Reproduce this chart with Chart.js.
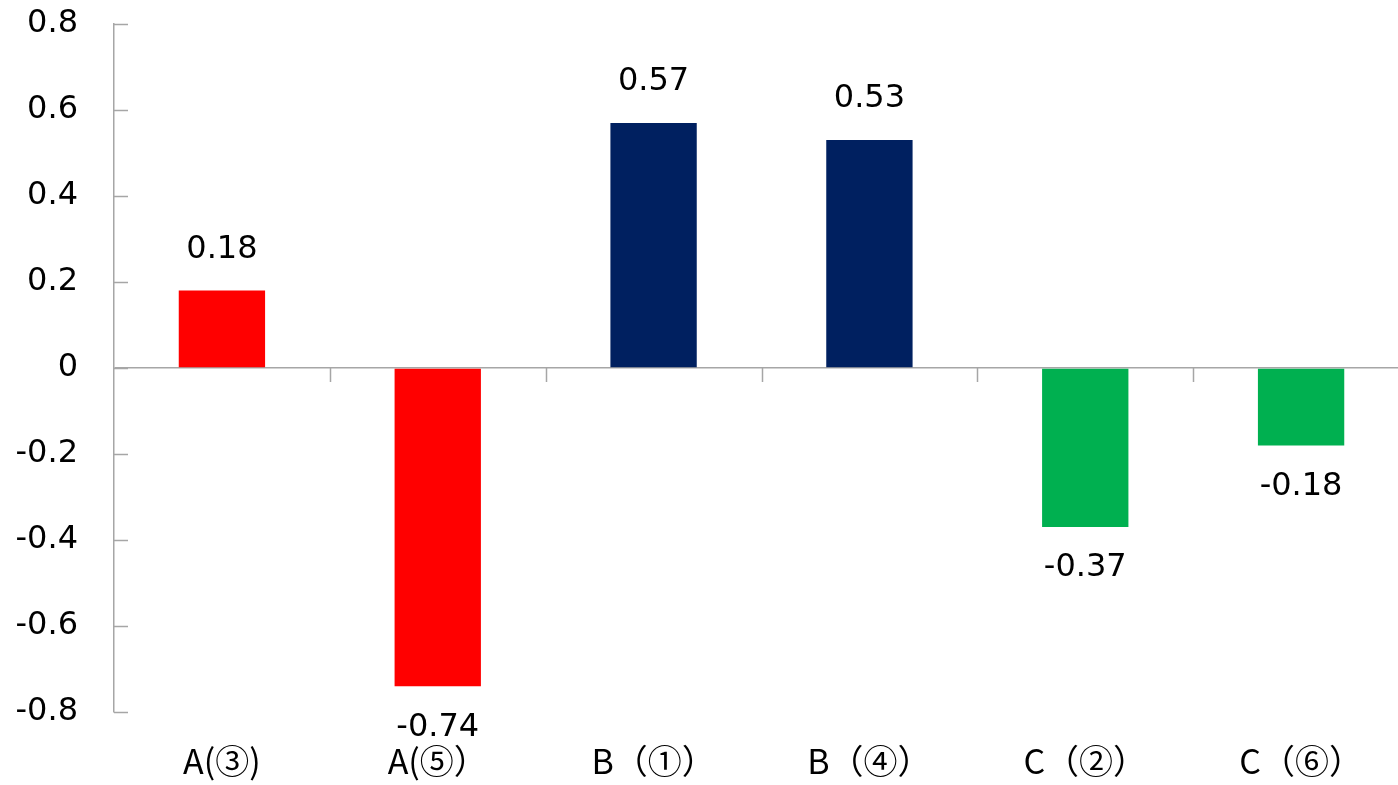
<!DOCTYPE html>
<html>
<head>
<meta charset="utf-8">
<script src="https://cdn.jsdelivr.net/npm/chart.js@4"></script>
<style>
  html, body { margin: 0; padding: 0; background: #fff; overflow: hidden; }
  #wrap { width: 1409px; height: 785px; }
</style>
</head>
<body>
<div id="wrap"><canvas id="barChart"></canvas></div>
<script>
var categories = ["A(③)", "A(⑤）", "B（①）", "B（④）", "C（②）", "C（⑥）"]
var values = [0.18, -0.74, 0.57, 0.53, -0.37, -0.18]
var barColors = ["#FF0000", "#FF0000", "#002060", "#002060", "#00B050", "#00B050"]
var yMin = -0.8
var yMax = 0.8
var yStep = 0.2

var axisGrey = "#A6A6A6"
var numFont = { family: "DejaVu Sans", size: 32 }
var catFont = { family: "Noto Sans CJK SC", size: 34 }

// inner tick marks on the value axis, downward ticks on the zero line, value labels
var extras = {
    id: "extras",
    afterDatasetsDraw: function(chart){
        var ctx = chart.ctx
        var x = chart.scales.x
        var y = chart.scales.y
        var y0 = y.getPixelForValue(0)

        ctx.save()
        ctx.strokeStyle = axisGrey
        ctx.lineWidth = 1.5
        ctx.beginPath()
        y.ticks.forEach(function(t){
            var py = Math.round(y.getPixelForValue(t.value)) + 0.5
            ctx.moveTo(y.right, py)
            ctx.lineTo(y.right + 14, py)
        })
        var w = (x.right - x.left) / categories.length
        for (var i = 1; i < categories.length; i++){
            var px = Math.round(x.left + i * w) + 0.5
            ctx.moveTo(px, y0)
            ctx.lineTo(px, y0 + 14)
        }
        ctx.stroke()

        ctx.fillStyle = "#000"
        ctx.font = numFont.size + "px " + numFont.family
        ctx.textAlign = "center"
        ctx.textBaseline = "middle"
        chart.getDatasetMeta(0).data.forEach(function(bar, i){
            var v = values[i]
            var ty = v >= 0 ? bar.y - 41 : bar.y + 41
            ctx.fillText(v.toFixed(2), bar.x, ty)
        })
        ctx.restore()
    }
}

var chart = new Chart(document.querySelector("#barChart"), {
    type: "bar",
    data: {
        labels: categories,
        datasets: [{
            data: values,
            backgroundColor: barColors,
            barPercentage: 0.4,
            categoryPercentage: 1.0
        }]
    },
    options: {
        responsive: true,
        maintainAspectRatio: false,
        animation: false,
        layout: { padding: { top: 24, right: 0, left: 0, bottom: 0 } },
        plugins: {
            legend: { display: false },
            tooltip: { enabled: false }
        },
        scales: {
            x: {
                grid: { display: false },
                border: { display: false },
                ticks: { font: catFont, color: "#000", padding: 21, maxRotation: 0 },
                afterFit: function(scale){ scale.height = 73 }
            },
            y: {
                min: yMin,
                max: yMax,
                border: { display: true, color: axisGrey, width: 1.5 },
                grid: {
                    drawTicks: true,
                    tickLength: 36,
                    tickColor: "rgba(0,0,0,0)",
                    color: function(c){ return c.tick && c.tick.value === 0 ? axisGrey : "rgba(0,0,0,0)" },
                    lineWidth: 1.5
                },
                ticks: {
                    stepSize: yStep,
                    padding: 0,
                    color: "#000",
                    font: numFont,
                    callback: function(v){
                        var r = Math.round(v * 10) / 10
                        return r === 0 ? "0" : r.toString()
                    }
                },
                afterFit: function(scale){ scale.width = 114 }
            }
        }
    },
    plugins: [extras]
})
</script>
</body>
</html>
